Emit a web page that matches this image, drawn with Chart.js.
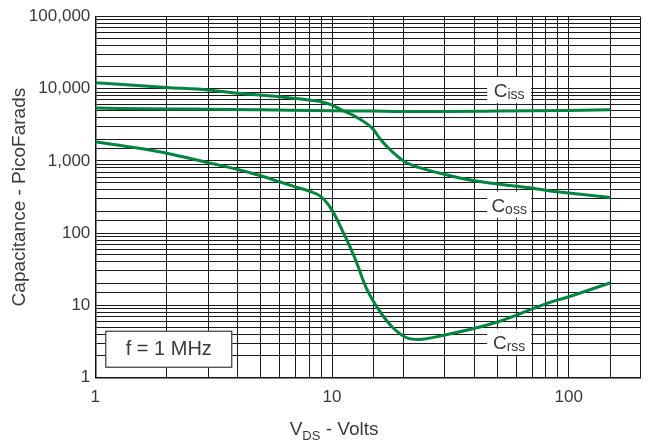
<!DOCTYPE html>
<html>
<head>
<meta charset="utf-8">
<script src="https://cdn.jsdelivr.net/npm/chart.js@4/dist/chart.umd.min.js"></script>
<style>
  html, body { margin: 0; padding: 0; background: #fff; }
  #wrap { width: 649px; height: 445px; position: relative; }
</style>
</head>
<body>
<div id="wrap"><canvas id="chart"></canvas></div>
<script>
// Capacitance vs drain-source voltage, log-log, f = 1 MHz
const cissVolts = [1, 2, 3, 5, 10, 15, 20, 30, 50, 100, 150];
const cissPf    = [5400, 5250, 5200, 5100, 4950, 4900, 4850, 4850, 4900, 5000, 5100];

const cossVolts = [1, 2, 3, 4, 6, 8, 9, 10, 11, 12.6, 14.8, 16.1, 18, 20.3, 23.2, 30, 40, 50, 67, 84, 100, 150];
const cossPf    = [12100, 10400, 9600, 8630, 7740, 6970, 6620, 5940, 5070, 4100, 2830, 1950, 1340, 975, 815, 651, 532, 480, 430, 385, 360, 313];

const crssVolts = [1, 2, 3, 4, 5, 6, 7, 8, 9, 10, 11.4, 12.6, 13.9, 15.8, 18, 21, 23.2, 30, 50, 81, 100, 150];
const crssPf    = [1850, 1280, 944, 764, 624, 515, 439, 383, 319, 209, 88, 42, 18, 8.6, 5.0, 3.5, 3.38, 3.9, 5.9, 10.7, 13.2, 20.6];

const seriesMain = ['C', 'C', 'C'];
const seriesSub  = ['iss', 'oss', 'rss'];
const xTickLabels = [1, 10, 100];
const yTickLabels = [1, 10, 100, 1000, 10000, 100000];

const GREEN = '#00843f';
const FONT = '"Liberation Sans", Arial, sans-serif';
const TXT = '#3a3a3a';

function pts(xs, ys) { return xs.map((v, i) => ({ x: v, y: ys[i] })); }

function curve(xs, ys) {
    return {
        data: pts(xs, ys),
        borderColor: GREEN,
        borderWidth: 3,
        pointRadius: 0,
        fill: false,
        cubicInterpolationMode: 'monotone'
    };
}

// subscript label: main letter + smaller subscript
function subText(ctx, x, y, main, sub, big, small, drop) {
    ctx.font = big + 'px ' + FONT;
    const w1 = ctx.measureText(main).width;
    ctx.font = small + 'px ' + FONT;
    const w2 = ctx.measureText(sub).width;
    let sx = x - (w1 + w2) / 2;
    ctx.font = big + 'px ' + FONT;
    ctx.fillText(main, sx, y);
    ctx.font = small + 'px ' + FONT;
    ctx.fillText(sub, sx + w1, y + drop);
    return w1 + w2;
}

const overlay = {
    id: 'overlay',
    afterDatasetsDraw(chart) {
        const { ctx, chartArea: a, scales: { x, y } } = chart;
        ctx.save();
        ctx.fillStyle = TXT;
        ctx.textBaseline = 'alphabetic';
        ctx.textAlign = 'left';

        // curve names on white patches
        const anchors = [[56, 9600], [56, 249], [56, 3.15]];
        anchors.forEach(([v, pf], i) => {
            const cx = x.getPixelForValue(v), cy = y.getPixelForValue(pf);
            ctx.fillStyle = '#fff';
            ctx.fillRect(cx - 22, cy - 13, 44, 26);
            ctx.fillStyle = TXT;
            subText(ctx, cx, cy + 7, seriesMain[i], seriesSub[i], 19, 14, 2);
        });

        // f = 1 MHz box
        const bx = a.left + 10, by = a.bottom - 47;
        ctx.fillStyle = '#fff';
        ctx.fillRect(bx, by, 127, 37);
        ctx.strokeStyle = '#111';
        ctx.lineWidth = 1;
        ctx.strokeRect(bx + 0.5, by + 0.5, 126, 36);
        ctx.fillStyle = TXT;
        ctx.font = '20px ' + FONT;
        ctx.textAlign = 'center';
        ctx.textBaseline = 'middle';
        ctx.fillText('f = 1 MHz', bx + 63.5, by + 19);

        // y title
        ctx.save();
        ctx.translate(20, (a.top + a.bottom) / 2);
        ctx.rotate(-Math.PI / 2);
        ctx.font = '19px ' + FONT;
        ctx.fillText('Capacitance - PicoFarads', 0, 0);
        ctx.restore();

        // x title with subscript
        ctx.textAlign = 'left';
        ctx.textBaseline = 'alphabetic';
        const tx = (a.left + a.right) / 2 - 78;
        const ty = 435;
        ctx.font = '19px ' + FONT;
        ctx.fillText('V', tx, ty);
        let w = ctx.measureText('V').width;
        ctx.font = '13px ' + FONT;
        ctx.fillText('DS', tx + w, ty + 5);
        w += ctx.measureText('DS').width;
        ctx.font = '19px ' + FONT;
        ctx.fillText(' - Volts', tx + w, ty);

        ctx.restore();
    }
};

new Chart(document.getElementById('chart'), {
    type: 'line',
    data: {
        datasets: [curve(cissVolts, cissPf), curve(cossVolts, cossPf), curve(crssVolts, crssPf)]
    },
    options: {
        responsive: true,
        maintainAspectRatio: false,
        animation: false,
        layout: { padding: { top: 16.5, right: 7.3, left: 0, bottom: 0 } },
        plugins: { legend: { display: false }, tooltip: { enabled: false } },
        scales: {
            x: {
                type: 'logarithmic',
                min: 1, max: 200,
                afterFit: s => { s.height = 67.3; },
                border: { color: '#111', width: 1.5 },
                grid: { color: '#1a1a1a', lineWidth: 1, drawTicks: false },
                ticks: {
                    autoSkip: false, maxRotation: 0, padding: 9,
                    color: TXT, font: { family: FONT, size: 17 },
                    callback: v => xTickLabels.includes(v) ? String(v) : ''
                }
            },
            y: {
                type: 'logarithmic',
                min: 1, max: 100000,
                afterFit: s => { s.width = 95.3; },
                border: { color: '#111', width: 1.5 },
                grid: { color: '#1a1a1a', lineWidth: 1, drawTicks: false },
                ticks: {
                    autoSkip: false, padding: 5,
                    color: TXT, font: { family: FONT, size: 17 },
                    callback: v => yTickLabels.includes(v) ? v.toLocaleString('en-US') : ''
                }
            }
        }
    },
    plugins: [overlay]
});
</script>
</body>
</html>
